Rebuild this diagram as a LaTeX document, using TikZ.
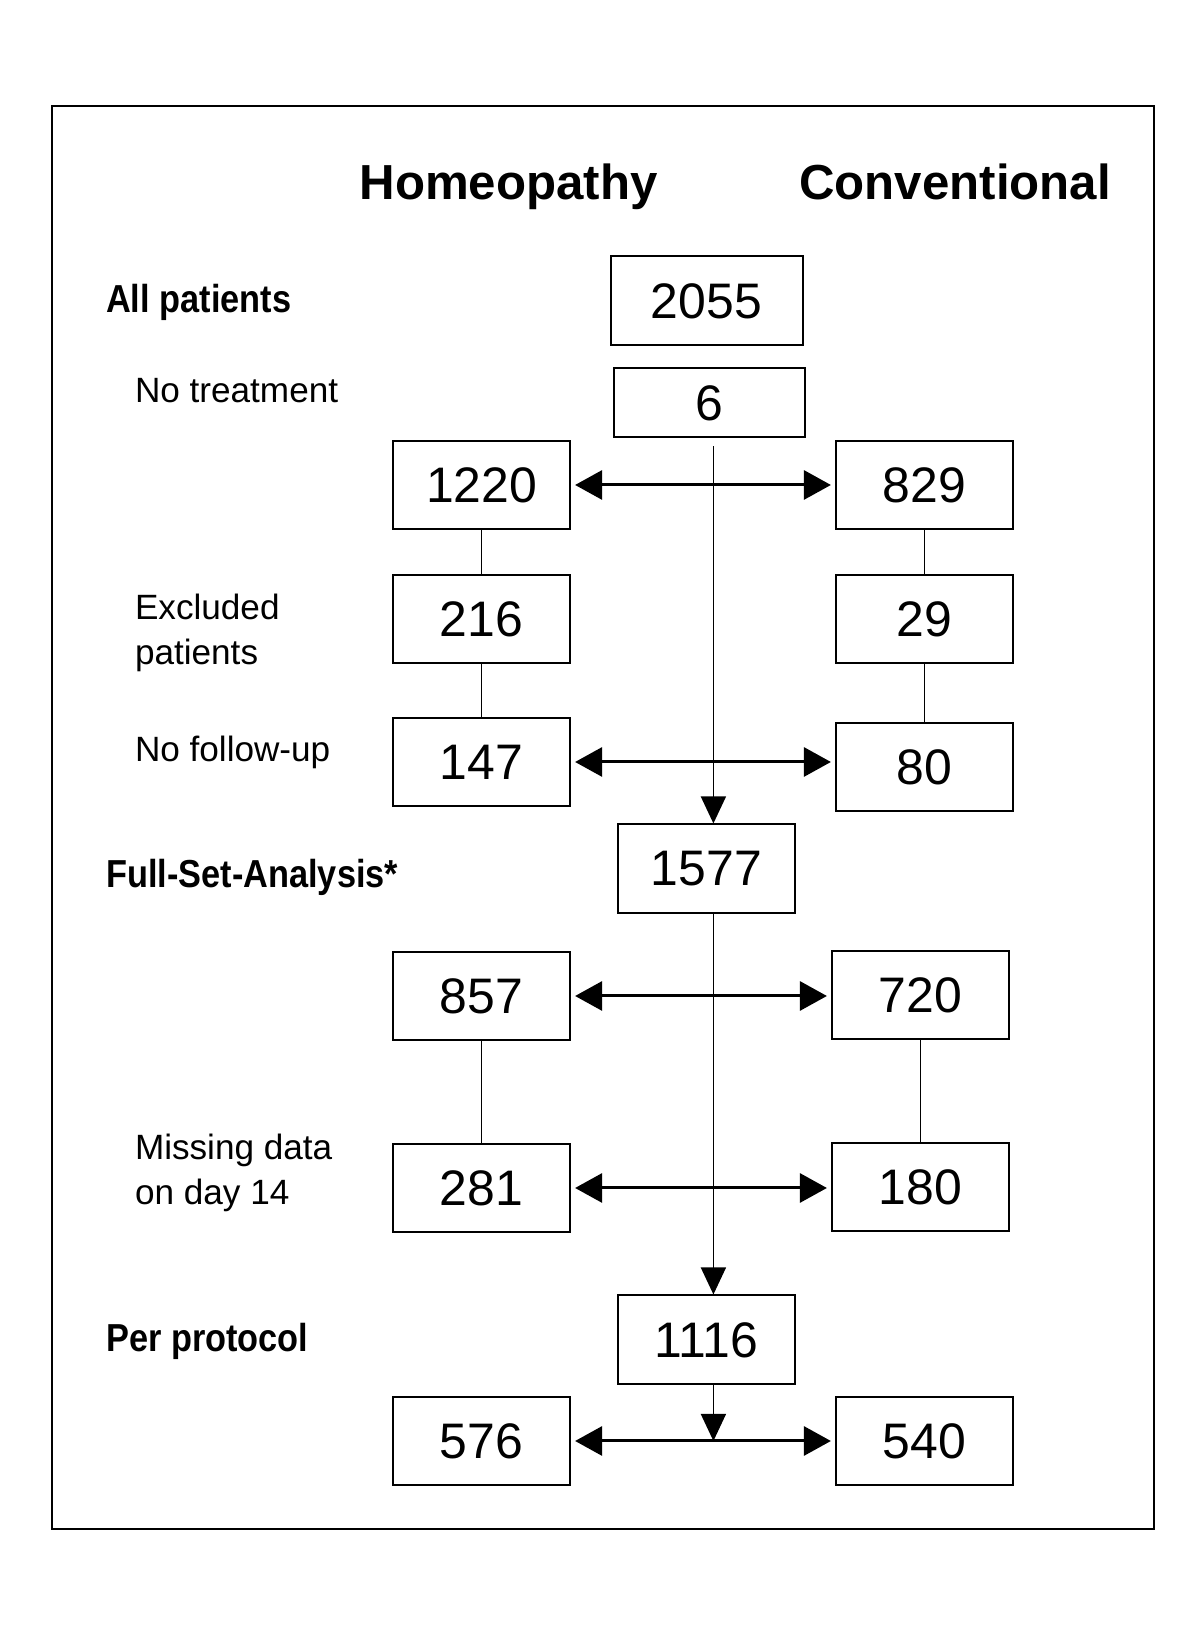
\documentclass[tikz,border=0pt]{standalone}
\usepackage{fontspec}
\setmainfont{Liberation Sans}
\newfontfamily\narrowsans[FakeStretch=0.88]{Liberation Sans}
\usetikzlibrary{positioning}
\usetikzlibrary{arrows.meta}
\newlength{\basisb}
\setlength{\basisb}{1mm}
\tikzset{
  countbox/.style={draw, line width=0.2\basisb, inner sep=0pt, minimum width=17.7\basisb, minimum height=8.8\basisb, font=\fontsize{14.2}{17}\selectfont},
  rowlabel/.style={anchor=base west, inner sep=0pt, font=\fontsize{10}{12.8}\selectfont},
  grouplabel/.style={anchor=base west, inner sep=0pt, font=\narrowsans\bfseries\fontsize{11.1}{13}\selectfont},
  armhead/.style={anchor=base, inner sep=0pt, font=\bfseries\fontsize{14}{17}\selectfont},
  splitarrow/.style={<->, >={Triangle[length=2.7mm, width=2.9mm]}, line width=0.3\basisb, shorten <=0.4mm, shorten >=0.4mm},
  flowarrow/.style={->, >={Triangle[length=2.7mm, width=2.5mm]}, line width=0.15\basisb},
  stemline/.style={line width=0.17\basisb}
}

\begin{document}
\begin{tikzpicture}
    \useasboundingbox (0,0) rectangle (120\basisb,164.1\basisb);
    \draw[line width=0.2\basisb] (5.17\basisb,11.2\basisb) rectangle (115.4\basisb,153.5\basisb);

    % column heads
    \draw (50.85\basisb,144.1\basisb) node[armhead] (HomHead) {Homeopathy};
    \draw (95.5\basisb,144.1\basisb) node[armhead] (ConvHead) {Conventional};

    % row labels
    \draw (10.55\basisb,132.8\basisb) node[grouplabel] (AllLabel) {All patients};
    \draw (13.43\basisb,123.8\basisb) node[rowlabel] (NoTreatLabel) {No treatment};
    \draw (13.43\basisb,100.8\basisb) node[rowlabel, anchor=west, align=left] (ExclLabel) {Excluded\\patients};
    \draw (13.43\basisb,87.9\basisb) node[rowlabel] (LostLabel) {No follow-up};
    \draw (10.55\basisb,75.3\basisb) node[grouplabel] (FSALabel) {Full-Set-Analysis*};
    \draw (13.43\basisb,46.8\basisb) node[rowlabel, anchor=west, align=left] (MissLabel) {Missing data\\on day 14};
    \draw (10.55\basisb,28.9\basisb) node[grouplabel] (PPLabel) {Per protocol};

    % middle column
    \draw (70.65\basisb,134.0\basisb) 
		node[countbox, minimum width=19.2\basisb, minimum height=8.9\basisb] 
			(All) {2055};
    \draw (70.94\basisb,123.8\basisb) 
		node[countbox, minimum width=19.1\basisb, minimum height=6.9\basisb] 
			(NoTreat) {6};
    \draw (70.65\basisb,77.2\basisb) 
		node[countbox, minimum height=8.9\basisb] 
			(FSA) {1577};
    \draw (70.65\basisb,30.1\basisb) 
		node[countbox, minimum height=8.9\basisb] 
			(PP) {1116};

    % homeopathy column
    \draw (48.16\basisb,115.6\basisb) node[countbox] (Hom1) {1220};
    \draw (48.16\basisb,102.2\basisb) node[countbox] (Hom2) {216};
    \draw (48.16\basisb,87.9\basisb) node[countbox] (Hom3) {147};
    \draw (48.16\basisb,64.5\basisb) node[countbox] (Hom4) {857};
    \draw (48.16\basisb,45.3\basisb) node[countbox] (Hom5) {281};
    \draw (48.16\basisb,20.0\basisb) node[countbox] (Hom6) {576};

    % conventional column
    \draw (92.44\basisb,115.6\basisb) node[countbox] (Conv1) {829};
    \draw (92.44\basisb,102.2\basisb) node[countbox] (Conv2) {29};
    \draw (92.44\basisb,87.4\basisb) node[countbox] (Conv3) {80};
    \draw (92.04\basisb,64.6\basisb) node[countbox] (Conv4) {720};
    \draw (92.04\basisb,45.4\basisb) node[countbox] (Conv5) {180};
    \draw (92.44\basisb,20.0\basisb) node[countbox] (Conv6) {540};

    % trunk
    \coordinate[below=0.8mm of NoTreat, xshift=0.4mm] (TrunkTop);
    \draw[flowarrow] (TrunkTop) -- (TrunkTop |- FSA.north);
    \draw[flowarrow] (TrunkTop |- FSA.south) -- (TrunkTop |- PP.north);
    \coordinate (PPSplit) at (TrunkTop |- Hom6.east);
    \draw[flowarrow] (TrunkTop |- PP.south) -- (PPSplit);

    % splits between the arms
    \draw[splitarrow] (Hom1.east) -- (Hom1.east -| Conv1.west);
    \draw[splitarrow] (Hom3.east) -- (Hom3.east -| Conv3.west);
    \draw[splitarrow] (Hom4.east) -- (Hom4.east -| Conv4.west);
    \draw[splitarrow] (Hom5.east) -- (Hom5.east -| Conv5.west);
    \draw[splitarrow] (Hom6.east) -- (Hom6.east -| Conv6.west);

    % within the arms
    \draw[stemline] (Hom1) -- (Hom2);
    \draw[stemline] (Hom2) -- (Hom3);
    \draw[stemline] (Conv1) -- (Conv2);
    \draw[stemline] (Conv2) -- (Conv3);
    \draw[stemline] (Hom4) -- (Hom5);
    \draw[stemline] (Conv4) -- (Conv5);
\end{tikzpicture}
\end{document}
